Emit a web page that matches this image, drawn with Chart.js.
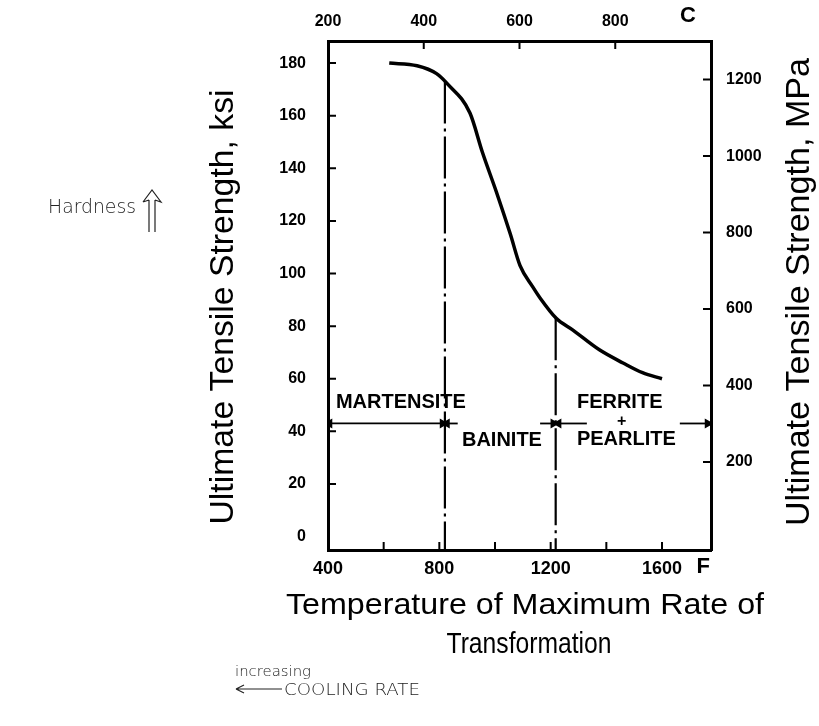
<!DOCTYPE html>
<html>
<head>
<meta charset="utf-8">
<script src="https://cdn.jsdelivr.net/npm/chart.js@4.4.0/dist/chart.umd.min.js"></script>
<style>
  body { margin: 0; background: #fff; }
  #wrap { width: 819px; height: 726px; position: relative; }
</style>
</head>
<body>
<div id="wrap"><canvas id="grafico"></canvas></div>
<script>
// curve: temperature of max transformation rate (F) vs tensile strength (ksi)
const tempF = [620, 720, 790, 830, 910, 955, 1005, 1055, 1090, 1135, 1160, 1220, 1280, 1375, 1460, 1530, 1600];
const strengthKsi = [180, 179, 176, 172, 161, 146, 131, 115, 103, 95, 91, 83, 78.5, 71, 66, 62.3, 60];

// phase boundaries (F) and where they meet the curve (ksi)
const boundaryF = [820, 1218];
const boundaryTop = [173, 83];

// phase range arrows, [fromF, toF, headAtStart, headAtEnd]
const arrowKsi = 43;
const arrowPieces = [
  [405, 812, true, true],
  [827, 866, true, false],
  [1162, 1210, false, true],
  [1228, 1330, true, false],
  [1664, 1764, false, true]
];

// phase names
const phaseNames = ['MARTENSITE', 'BAINITE', 'FERRITE', '+', 'PEARLITE'];
const phaseF = [662, 1025, 1448, 1455, 1472];
const phaseKsi = [51, 36.5, 51, 43.8, 36.8];

// axis tick labels
const ksiTicks = [0, 20, 40, 60, 80, 100, 120, 140, 160, 180];
const mpaTicks = [200, 400, 600, 800, 1000, 1200];
const fLabels = [400, 800, 1200, 1600];
const fMarks = [600, 800, 1000, 1200, 1400, 1600];
const cLabels = [200, 400, 600, 800];
const cMarks = [400, 600, 800];

var datasets = [];

datasets.push({
  data: tempF.map(function (f, i) { return { x: f, y: strengthKsi[i] }; }),
  borderColor: '#000',
  borderWidth: 3.5,
  pointRadius: 0,
  cubicInterpolationMode: 'monotone'
});

for (var b = 0; b < boundaryF.length; b++) {
  datasets.push({
    data: [{ x: boundaryF[b], y: boundaryTop[b] }, { x: boundaryF[b], y: -6 }],
    borderColor: '#000',
    borderWidth: 2.2,
    borderDash: [42, 5, 3, 5],
    pointRadius: 0
  });
}

for (var a = 0; a < arrowPieces.length; a++) {
  var p = arrowPieces[a];
  datasets.push({
    data: [{ x: p[0], y: arrowKsi }, { x: p[1], y: arrowKsi }],
    borderColor: '#000',
    backgroundColor: '#000',
    borderWidth: 1.8,
    pointStyle: 'triangle',
    pointRadius: [p[2] ? 4 : 0, p[3] ? 4 : 0],
    rotation: [270, 90]
  });
}

function keepWidth(w) { return function (scale) { scale.width = w; }; }
function keepHeight(h) { return function (scale) { scale.height = h; }; }
function useTicks(list) {
  return function (scale) { scale.ticks = list.map(function (v) { return { value: v }; }); };
}
function plain(v) { return String(v); }

const ctx = document.getElementById('grafico').getContext('2d');

// inward tick marks, like the printed figure
const tickMarks = {
  id: 'tickMarks',
  afterDatasetsDraw: function (chart) {
    var c = chart.ctx, area = chart.chartArea, s = chart.scales;
    c.save();
    c.strokeStyle = '#000';
    c.lineWidth = 2;
    c.beginPath();
    ksiTicks.forEach(function (v) {
      if (v === 0) return;
      var y = s.y.getPixelForValue(v);
      c.moveTo(area.left, y); c.lineTo(area.left + 8, y);
    });
    mpaTicks.forEach(function (v) {
      var y = s.y2.getPixelForValue(v);
      c.moveTo(area.right, y); c.lineTo(area.right - 8, y);
    });
    fMarks.forEach(function (v) {
      var x = s.x.getPixelForValue(v);
      c.moveTo(x, area.bottom); c.lineTo(x, area.bottom - 8);
    });
    cMarks.forEach(function (v) {
      var x = s.x2.getPixelForValue(v);
      c.moveTo(x, area.top); c.lineTo(x, area.top + 8);
    });
    c.stroke();
    c.restore();
  }
};

function fitText(c, text, x, y, width, font, angle) {
  c.save();
  c.font = font;
  var w = c.measureText(text).width;
  c.translate(x, y);
  c.rotate(angle || 0);
  if (width) c.scale(width / w, 1);
  c.textAlign = 'center';
  c.textBaseline = 'middle';
  c.fillText(text, 0, 0);
  c.restore();
}

const labelsPlugin = {
  id: 'labelsPlugin',
  afterDraw: function (chart) {
    var c = chart.ctx, s = chart.scales;
    c.fillStyle = '#000';
    var sans = '"Liberation Sans", Arial, sans-serif';

    for (var i = 0; i < phaseNames.length; i++) {
      fitText(c, phaseNames[i], s.x.getPixelForValue(phaseF[i]), s.y.getPixelForValue(phaseKsi[i]),
        null, 'bold ' + (phaseNames[i] === '+' ? 16 : 20) + 'px ' + sans);
    }

    // unit letters at the end of the temperature scales
    fitText(c, 'F', s.x.getPixelForValue(1748), 567, null, '900 22px ' + sans);
    fitText(c, 'C', s.x2.getPixelForValue(952), 16, null, '900 22px ' + sans);

    // axis titles
    fitText(c, 'Ultimate Tensile Strength, ksi', 224, 307, 435, '34px ' + sans, -Math.PI / 2);
    fitText(c, 'Ultimate Tensile Strength, MPa', 800, 292, 468, '34px ' + sans, -Math.PI / 2);
    fitText(c, 'Temperature of Maximum Rate of', 525, 606, 478, '30px ' + sans);
    fitText(c, 'Transformation', 529, 645, 165, '30px ' + sans);

    // handwritten notes
    c.save();
    c.fillStyle = '#222';
    fitText(c, 'Hardness', 92, 208, 88, '300 20px "DejaVu Sans", sans-serif');
    fitText(c, 'increasing', 273, 672, 76, '300 14px "DejaVu Sans", sans-serif');
    fitText(c, 'COOLING RATE', 352, 691, 136, '300 15px "DejaVu Sans", sans-serif');
    c.lineWidth = 1.2;
    c.strokeStyle = '#222';
    c.beginPath();
    // arrow under "increasing"
    c.moveTo(236, 689); c.lineTo(282, 689);
    c.moveTo(236, 689); c.lineTo(244, 685);
    c.moveTo(236, 689); c.lineTo(244, 693);
    // hollow up arrow after "Hardness"
    c.moveTo(149, 232); c.lineTo(149, 200);
    c.moveTo(155, 232); c.lineTo(155, 200);
    c.moveTo(143, 202); c.lineTo(152, 190); c.lineTo(161, 202);
    c.lineTo(155, 200); c.moveTo(143, 202); c.lineTo(149, 200);
    c.stroke();
    c.restore();
  }
};

var tickFont = { family: '"Liberation Sans", Arial, sans-serif', weight: 'bold', size: 16 };

var chart = new Chart(ctx, {
  type: 'line',
  data: { datasets: datasets },
  options: {
    responsive: true,
    maintainAspectRatio: false,
    animation: false,
    layout: { padding: 0 },
    plugins: { legend: { display: false }, tooltip: { enabled: false } },
    scales: {
      x: {
        type: 'linear', position: 'bottom', min: 400, max: 1776,
        afterFit: keepHeight(176),
        afterBuildTicks: useTicks(fLabels),
        grid: { display: false, drawTicks: false },
        border: { display: true, color: '#000', width: 3 },
        ticks: { color: '#000', padding: 8, maxRotation: 0, autoSkip: false, callback: plain,
          font: { family: tickFont.family, weight: 'bold', size: 18 } }
      },
      x2: {
        type: 'linear', position: 'top', min: 200, max: 1000,
        afterFit: keepHeight(41),
        afterBuildTicks: useTicks(cLabels),
        grid: { display: false, drawTicks: false },
        border: { display: true, color: '#000', width: 3 },
        ticks: { color: '#000', padding: 10, maxRotation: 0, autoSkip: false, callback: plain,
          font: { family: tickFont.family, weight: 'bold', size: 16 } }
      },
      y: {
        type: 'linear', position: 'left', min: -5.1, max: 188.4,
        afterFit: keepWidth(328),
        afterBuildTicks: useTicks(ksiTicks),
        grid: { display: false, drawTicks: false },
        border: { display: true, color: '#000', width: 3 },
        ticks: { color: '#000', padding: 22, font: tickFont, callback: plain }
      },
      y2: {
        type: 'linear', position: 'right', min: -30, max: 1301,
        afterFit: keepWidth(108),
        afterBuildTicks: useTicks(mpaTicks),
        grid: { display: false, drawTicks: false },
        border: { display: true, color: '#000', width: 3 },
        ticks: { color: '#000', padding: 15, font: tickFont, callback: plain }
      }
    }
  },
  plugins: [tickMarks, labelsPlugin]
});
</script>
</body>
</html>
